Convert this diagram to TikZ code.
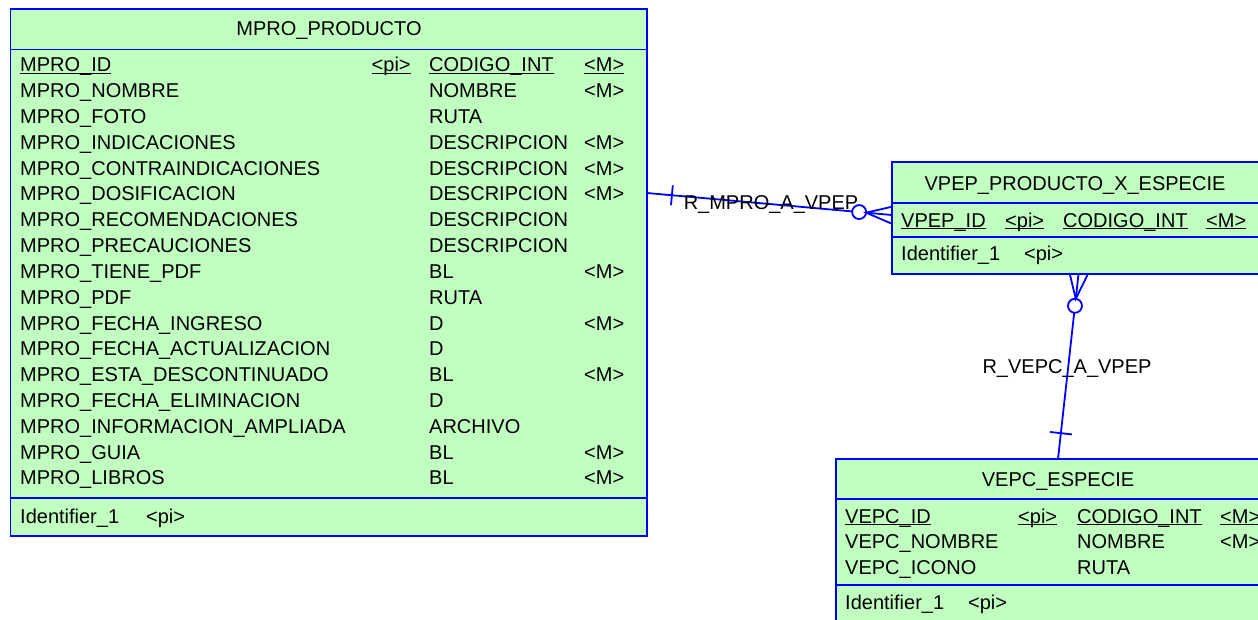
\documentclass[tikz,border=0pt]{standalone}
\usepackage{fontspec}
\setmainfont{Liberation Sans}
\usepackage{tikz}
\usetikzlibrary{positioning, calc}
\definecolor{erGreen}{RGB}{192,255,192}
\definecolor{erBlue}{RGB}{0,0,255}
\newcommand{\ulnd}[1]{\setbox0\hbox{#1}\rlap{\rule[-2.4pt]{\wd0}{1.2pt}}\box0}
\newcommand{\mproRows}{NOMBRE/NOMBRE/<M>, FOTO/RUTA/{}, INDICACIONES/DESCRIPCION/<M>,
  CONTRAINDICACIONES/DESCRIPCION/<M>, DOSIFICACION/DESCRIPCION/<M>, RECOMENDACIONES/DESCRIPCION/{},
  PRECAUCIONES/DESCRIPCION/{}, TIENE\_PDF/BL/<M>, PDF/RUTA/{}, FECHA\_INGRESO/D/<M>,
  FECHA\_ACTUALIZACION/D/{}, ESTA\_DESCONTINUADO/BL/<M>, FECHA\_ELIMINACION/D/{},
  INFORMACION\_AMPLIADA/ARCHIVO/{}, GUIA/BL/<M>, LIBROS/BL/<M>}

\begin{document}
\begin{tikzpicture}[x=1pt, y=-1pt,
  ent/.style={draw=erBlue, fill=erGreen, line width=1.8pt, inner sep=0pt, outer sep=0pt, anchor=north west},
  txt/.style={anchor=base west, inner sep=0pt, font=\fontsize{20}{24}\selectfont},
  ttl/.style={txt, anchor=base},
  rel/.style={draw=erBlue, line width=1.8pt}]
  \useasboundingbox (0,0) rectangle (1258,619);
  \clip (0,0) rectangle (1258,619);
  % MPRO_PRODUCTO
  \node[ent, minimum width=636.5pt, minimum height=40.5pt] (mproHead) at (10.5,9) {};
  \node[ent, minimum width=636.5pt, minimum height=448.5pt] (mproBody) at (mproHead.south west) {};
  \node[ent, minimum width=636.5pt, minimum height=38pt] (mproKey) at (mproBody.south west) {};
  \node[ttl] (mproTitle) at (329,35) {MPRO\_PRODUCTO};
  \node[txt] (mproId) at (20,71.7) {\ulnd{MPRO\_ID}};
  \node[txt] (mproIdPi) at (371.5,71.7) {\ulnd{<pi>}};
  \node[txt] (mproIdT) at (429,71.7) {\ulnd{CODIGO\_INT}};
  \node[txt] (mproIdM) at (584,71.7) {\ulnd{<M>}};
  \foreach \a/\t/\m [count=\i] in \mproRows {
    \node[txt] (mproA\i) at (20,71.7+25.83*\i) {MPRO\_\a};
    \node[txt] (mproT\i) at (429,71.7+25.83*\i) {\t};
    \node[txt] (mproM\i) at (584,71.7+25.83*\i) {\m};
  }
  \node[txt] (mproIdent) at (20,523) {Identifier\_1\hspace{27pt}<pi>};
  % VPEP_PRODUCTO_X_ESPECIE
  \node[ent, minimum width=366.5pt, minimum height=41pt] (vpepHead) at (892,162) {};
  \node[ent, minimum width=366.5pt, minimum height=34pt] (vpepBody) at (vpepHead.south west) {};
  \node[ent, minimum width=366.5pt, minimum height=37pt] (vpepKey) at (vpepBody.south west) {};
  \node[ttl] (vpepTitle) at (1075,190) {VPEP\_PRODUCTO\_X\_ESPECIE};
  \node[txt] (vpepId) at (901,227) {\ulnd{VPEP\_ID}};
  \node[txt] (vpepIdPi) at (1005,227) {\ulnd{<pi>}};
  \node[txt] (vpepIdT) at (1063,227) {\ulnd{CODIGO\_INT}};
  \node[txt] (vpepIdM) at (1206,227) {\ulnd{<M>}};
  \node[txt] (vpepIdent) at (901,260.5) {Identifier\_1\hspace{24pt}<pi>};
  % VEPC_ESPECIE
  \node[ent, minimum width=444pt, minimum height=40pt] (vepcHead) at (836,459) {};
  \node[ent, minimum width=444pt, minimum height=86pt] (vepcBody) at (vepcHead.south west) {};
  \node[ent, minimum width=444pt, minimum height=55pt] (vepcKey) at (vepcBody.south west) {};
  \node[ttl] (vepcTitle) at (1058,486) {VEPC\_ESPECIE};
  \node[txt] (vepcId) at (845,523) {\ulnd{VEPC\_ID}};
  \node[txt] (vepcIdPi) at (1018,523) {\ulnd{<pi>}};
  \node[txt] (vepcIdT) at (1077,523) {\ulnd{CODIGO\_INT}};
  \node[txt] (vepcIdM) at (1220,523) {\ulnd{<M>}};
  \node[txt] (vepcA1) at (845,548.5) {VEPC\_NOMBRE};
  \node[txt] (vepcT1) at (1077,548.5) {NOMBRE};
  \node[txt] (vepcM1) at (1220,548.5) {<M>};
  \node[txt] (vepcA2) at (845,574.3) {VEPC\_ICONO};
  \node[txt] (vepcT2) at (1077,574.3) {RUTA};
  \node[txt] (vepcIdent) at (845,609.3) {Identifier\_1\hspace{24pt}<pi>};
  % R_MPRO_A_VPEP
  \coordinate (r1s) at (mproBody.east |- 0,193);
  \coordinate (r1e) at (vpepBody.west |- 0,215);
  \coordinate (r1f) at ($(r1e)!26pt!(r1s)$);
  \coordinate (r1t) at ($(r1s)!25pt!(r1e)$);
  \draw[rel] (r1s) -- ($(r1e)!40pt!(r1s)$);
  \draw[rel, fill=white] ($(r1e)!33pt!(r1s)$) circle[radius=7pt];
  \draw[rel] ($(r1e)!8.5pt!90:(r1s)$) -- (r1f) -- ($(r1e)!8.5pt!-90:(r1s)$);
  \draw[rel] (r1f) -- (r1e);
  \draw[rel] ($(r1t)!10pt!90:(r1e)$) -- ($(r1t)!10pt!-90:(r1e)$);
  \node[ttl] (r1Label) at (771,209.5) {R\_MPRO\_A\_VPEP};
  % R_VEPC_A_VPEP
  \coordinate (r2s) at (vepcHead.north -| 1058,0);
  \coordinate (r2e) at (vpepKey.south -| 1078.5,0);
  \coordinate (r2f) at ($(r2e)!25pt!(r2s)$);
  \coordinate (r2t) at ($(r2s)!26pt!(r2e)$);
  \draw[rel] (r2s) -- ($(r2e)!39pt!(r2s)$);
  \draw[rel, fill=white] ($(r2e)!32pt!(r2s)$) circle[radius=7pt];
  \draw[rel] ($(r2e)!9pt!90:(r2s)$) -- (r2f) -- ($(r2e)!9pt!-90:(r2s)$);
  \draw[rel] (r2f) -- (r2e);
  \draw[rel] ($(r2t)!11pt!90:(r2e)$) -- ($(r2t)!11pt!-90:(r2e)$);
  \node[ttl] (r2Label) at (1067,373) {R\_VEPC\_A\_VPEP};
\end{tikzpicture}
\end{document}
